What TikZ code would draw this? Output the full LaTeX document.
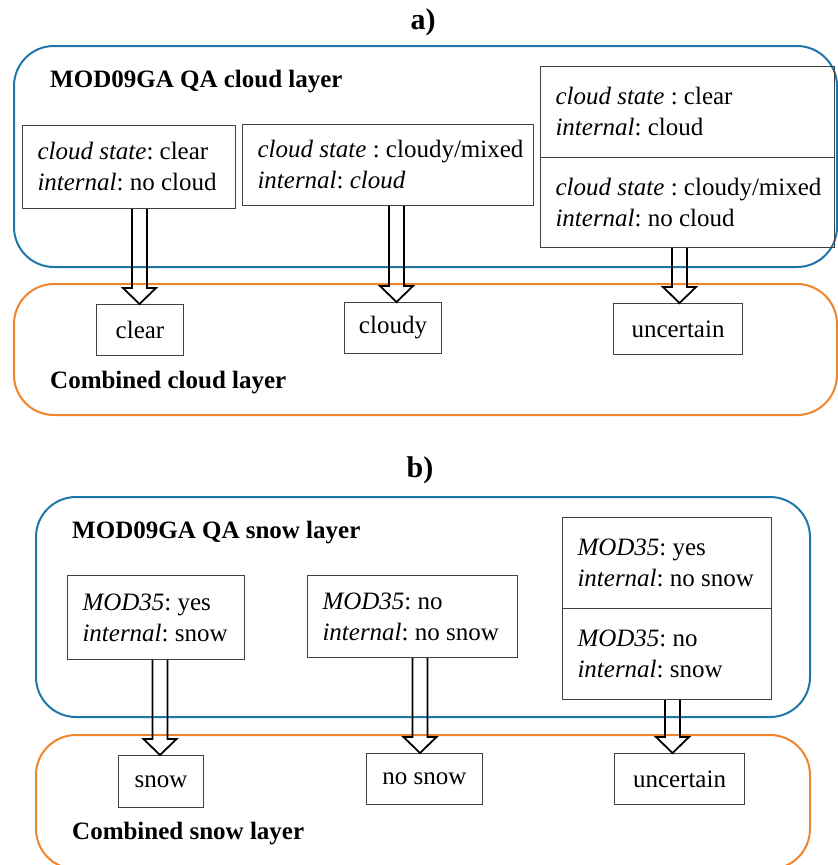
\documentclass[tikz,border=0pt]{standalone}
\usepackage{fontspec}
\setmainfont{Liberation Serif}
\usetikzlibrary{calc}
\definecolor{layblue}{RGB}{31,119,168}
\definecolor{layorange}{RGB}{240,132,44}
\newcommand{\bxline}[1]{\mbox{#1}}
\tikzset{
  txt/.style={font=\fontsize{25}{31}\selectfont\frenchspacing},
  qbox/.style={txt, draw=black!75, line width=1pt, anchor=north west, inner xsep=15pt, inner ysep=0pt, align=flush left},
  rbox/.style={txt, draw=black!75, line width=1pt, anchor=north west, inner sep=0pt, align=center},
  lay/.style={line width=2pt, rounded corners=40pt},
  heading/.style={font=\fontsize{25}{30}\selectfont\bfseries, anchor=west, inner sep=0pt},
  ptitle/.style={font=\fontsize{30}{34}\selectfont\bfseries, inner sep=0pt},
  fat/.style={line width=1.8pt, line join=miter,
    to path={let \p1=(\tikztostart), \p2=(\tikztotarget) in
      (\x2-7.5pt,\y1) -- (\x2-7.5pt,\y2+16pt) -- (\x2-16.5pt,\y2+16pt) -- (\x2,\y2)
      -- (\x2+16.5pt,\y2+16pt) -- (\x2+7.5pt,\y2+16pt) -- (\x2+7.5pt,\y1)}}
}
\begin{document}
\begin{tikzpicture}[x=1pt,y=-1pt]
\useasboundingbox (0,0) rectangle (838,865);
% ---------- a) ----------
\node[ptitle] (ta) at (423,22) {a)};
\draw[lay, layblue] (14,46) rectangle (837,267);
\draw[lay, layorange] (14,284) rectangle (837,415);
\node[heading] (hA) at (50,82) {MOD09GA QA cloud layer};
\node[heading] (cA) at (50,383) {Combined cloud layer};

\node[qbox, text width=183pt, minimum height=83pt] (a1) at (22,125)
  {\bxline{\textit{cloud state}: clear}\\ \bxline{\textit{internal}: no cloud}};
\node[qbox, text width=261pt, minimum height=81pt] (a2) at (242,124)
  {\bxline{\textit{cloud state} : cloudy/mixed}\\ \bxline{\textit{internal}: \textit{cloud}}};
\node[qbox, text width=264pt, minimum height=91pt] (a3t) at (540,66)
  {\bxline{\textit{cloud state} : clear}\\ \bxline{\textit{internal}: cloud}};
\node[qbox, text width=264pt, minimum height=90pt] (a3b) at (540,157)
  {\bxline{\textit{cloud state} : cloudy/mixed}\\ \bxline{\textit{internal}: no cloud}};

\node[rbox, minimum width=87pt, minimum height=51pt] (clear) at (96,304) {clear};
\node[rbox, minimum width=97pt, minimum height=51pt] (cloudy) at (344,302) {cloudy};
\node[rbox, minimum width=129pt, minimum height=51pt] (uncA) at (613,303) {uncertain};

\draw[fat] (a1.south) to ([xshift=-0.5pt]clear.north);
\draw[fat] (a2.south) to ([xshift=3.5pt]cloudy.north);
\draw[fat] (a3b.south) to ([xshift=1.5pt]uncA.north);

% ---------- b) ----------
\node[ptitle] (tb) at (420,470) {b)};
\draw[lay, layblue] (36,497) rectangle (810,717);
\draw[lay, layorange] (36,735) rectangle (810,869);
\node[heading] (hB) at (72,533) {MOD09GA QA snow layer};
\node[heading] (cB) at (72,834) {Combined snow layer};

\node[qbox, text width=147pt, minimum height=84pt] (b1) at (67,575)
  {\bxline{\textit{MOD35}: yes}\\ \bxline{\textit{internal}: snow}};
\node[qbox, text width=180pt, minimum height=82pt] (b2) at (307,575)
  {\bxline{\textit{MOD35}: no}\\ \bxline{\textit{internal}: no snow}};
\node[qbox, text width=179pt, minimum height=91pt] (b3t) at (562,517)
  {\bxline{\textit{MOD35}: yes}\\ \bxline{\textit{internal}: no snow}};
\node[qbox, text width=179pt, minimum height=91pt] (b3b) at (562,608)
  {\bxline{\textit{MOD35}: no}\\ \bxline{\textit{internal}: snow}};

\node[rbox, minimum width=85pt, minimum height=52pt] (snow) at (118,755) {snow};
\node[rbox, minimum width=116pt, minimum height=51pt] (nosnow) at (366,753) {no snow};
\node[rbox, minimum width=130pt, minimum height=51pt] (uncB) at (614,753) {uncertain};

\draw[fat] (b1.south) to ([xshift=-1pt]snow.north);
\draw[fat] (b2.south) to ([xshift=-4.5pt]nosnow.north);
\draw[fat] (b3b.south) to ([xshift=-7pt]uncB.north);
\end{tikzpicture}
\end{document}
